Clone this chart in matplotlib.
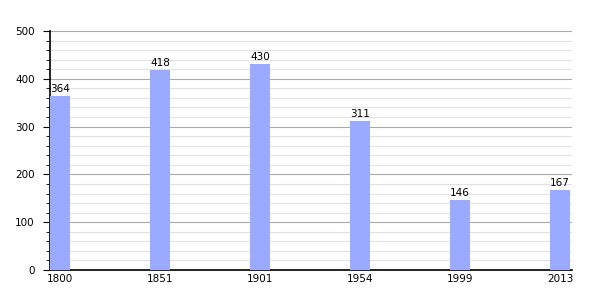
import numpy as np
import matplotlib.pyplot as plt
from matplotlib.ticker import MultipleLocator

years = ["1800", "1851", "1901", "1954", "1999", "2013"]
population = [364, 418, 430, 311, 146, 167]

fig = plt.figure(figsize=(6, 3), dpi=100)
ax = fig.add_axes([50 / 600, 30 / 300, 522 / 600, 239 / 300])

x = np.arange(len(years))
ax.bar(x, population, width=0.2, align="edge", color="#99aaff", zorder=3)
for xi, v in zip(x, population):
    ax.text(xi + 0.1, v + 5, str(v), ha="center", va="bottom", fontsize=7.5, zorder=4)

ax.set_xlim(0, 5.22)
ax.set_ylim(0, 500)
ax.set_xticks(x + 0.1)
ax.set_xticklabels(years, fontsize=7.5)
ax.tick_params(axis="x", length=0, pad=3)
ax.yaxis.set_major_locator(MultipleLocator(100))
ax.yaxis.set_minor_locator(MultipleLocator(20))
ax.tick_params(axis="y", which="major", length=5, labelsize=7.5, pad=6)
ax.tick_params(axis="y", which="minor", length=3)
ax.grid(axis="y", which="major", color="#aaaaaa", linewidth=0.8, zorder=0)
ax.grid(axis="y", which="minor", color="#e2e2e2", linewidth=0.8, zorder=0)
for s in ["top", "right"]:
    ax.spines[s].set_visible(False)
ax.spines["left"].set_linewidth(1.2)
ax.spines["bottom"].set_linewidth(1.2)

fig.savefig("out.png")
